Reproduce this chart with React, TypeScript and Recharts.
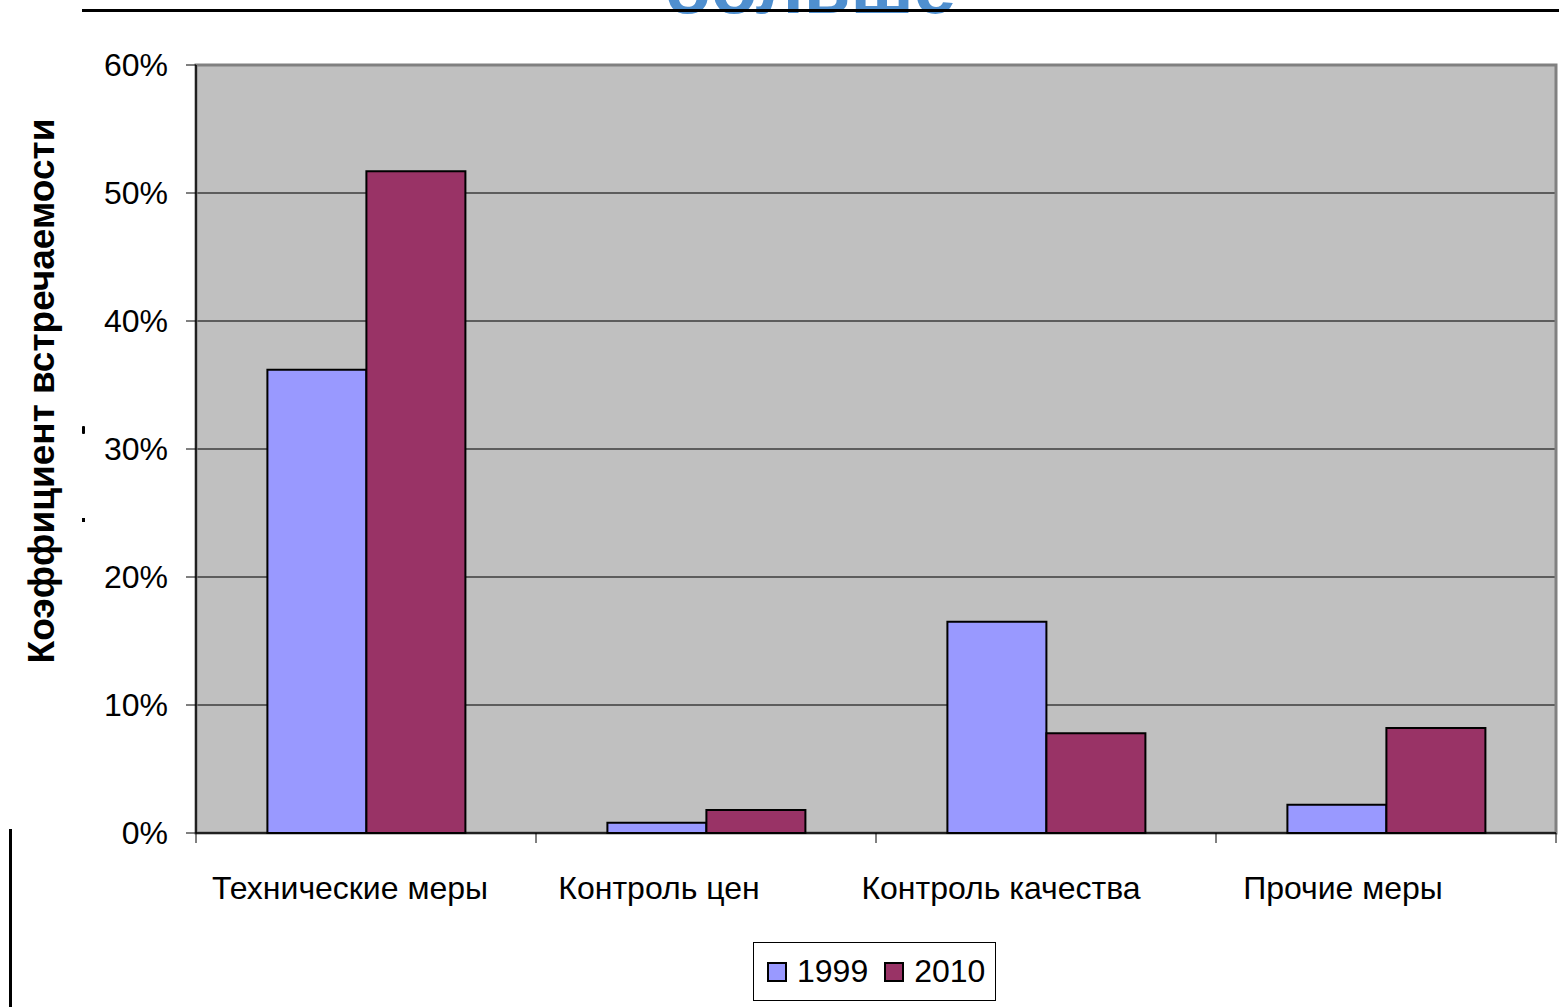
import {
  Bar,
  BarChart,
  CartesianGrid,
  Legend,
  ReferenceArea,
  XAxis,
  YAxis,
} from "recharts";

// Values (share of occurrences, %)
const CATEGORIES = ["Технические меры", "Контроль цен", "Контроль качества", "Прочие меры"];
const SERIES_1999 = [36.2, 0.8, 16.5, 2.2];
const SERIES_2010 = [51.7, 1.8, 7.8, 8.2];
const Y_TICKS = [0, 10, 20, 30, 40, 50, 60];

const COLOR_1999 = "#9999FF";
const COLOR_2010 = "#993366";
const FONT = "'Liberation Sans', Arial, sans-serif";
// labels in the original sit a bit left of category centres
const LABEL_DX = [-16, -47, -45, -43];
const HALF_BAND = 170;

const data = CATEGORIES.map((name, i) => ({
  name,
  y1999: SERIES_1999[i],
  y2010: SERIES_2010[i],
}));

function CategoryTick(props: any) {
  const { x, y, payload, index } = props;
  const last = index === CATEGORIES.length - 1;
  return (
    <g>
      <line x1={x - HALF_BAND} y1={y} x2={x - HALF_BAND} y2={y + 10} stroke="#000" strokeWidth={1} />
      {last && (
        <line x1={x + HALF_BAND} y1={y} x2={x + HALF_BAND} y2={y + 10} stroke="#000" strokeWidth={1} />
      )}
      <text
        x={x + (LABEL_DX[index] ?? 0)}
        y={y + 55}
        textAnchor="middle"
        dominantBaseline="central"
        fontFamily={FONT}
        fontSize={32}
        fill="#000"
      >
        {payload.value}
      </text>
    </g>
  );
}

function YLabel() {
  return (
    <text
      x={41}
      y={391}
      transform="rotate(-90 41 391)"
      textAnchor="middle"
      dominantBaseline="central"
      fontFamily={FONT}
      fontWeight="bold"
      fontSize={37}
      fill="#000"
    >
      Коэффициент встречаемости
    </text>
  );
}

function LegendBox() {
  const item = (color: string, label: string, gap: number) => (
    <span style={{ display: "inline-flex", alignItems: "center", marginRight: gap }}>
      <span
        style={{
          display: "inline-block",
          width: 16,
          height: 16,
          background: color,
          border: "2px solid #000",
          marginRight: 10,
        }}
      />
      <span>{label}</span>
    </span>
  );
  return (
    <div
      style={{
        width: 243,
        height: 59,
        border: "1px solid #000",
        display: "flex",
        alignItems: "center",
        paddingLeft: 13,
        boxSizing: "border-box",
        fontFamily: FONT,
        fontSize: 32,
        color: "#000",
        background: "#fff",
      }}
    >
      {item(COLOR_1999, "1999", 16)}
      {item(COLOR_2010, "2010", 0)}
    </div>
  );
}

export default function App() {
  return (
    <div style={{ position: "absolute", left: 0, top: 0, width: 1559, height: 1007, background: "#fff", overflow: "hidden" }}>
      {/* clipped slide title above the rule */}
      <div
        style={{
          position: "absolute",
          left: 0,
          top: -51,
          width: 1620,
          textAlign: "center",
          fontFamily: FONT,
          fontWeight: "bold",
          fontSize: 76,
          color: "#4F8FCF",
          lineHeight: "76px",
        }}
      >
        больше
      </div>
      <div style={{ position: "absolute", left: 82, top: 9, width: 1477, height: 3, background: "#000" }} />
      <div style={{ position: "absolute", left: 9, top: 829, width: 3, height: 178, background: "#000" }} />
      <div style={{ position: "absolute", left: 82, top: 426, width: 3, height: 8, background: "#000", borderRadius: 1 }} />
      <div style={{ position: "absolute", left: 82, top: 518, width: 3, height: 4, background: "#000" }} />

      <div style={{ position: "absolute", left: 0, top: 0 }}>
        <BarChart
          width={1559}
          height={1007}
          data={data}
          margin={{ top: 65, right: 3, bottom: 0, left: 0 }}
          barCategoryGap="21%"
          barGap={0}
        >
          <CartesianGrid
            fill="#C0C0C0"
            fillOpacity={1}
            stroke="#3c3c3c"
            strokeWidth={1.5}
            vertical={false}
          />
          <ReferenceArea y1={0} y2={60} fill="none" stroke="#808080" strokeWidth={3} ifOverflow="visible" />
          <XAxis
            dataKey="name"
            height={115}
            tickSize={0}
            tickMargin={0}
            tickLine={false}
            axisLine={{ stroke: "#000", strokeWidth: 1.5 }}
            tick={<CategoryTick />}
            interval={0}
          />
          <YAxis
            width={196}
            domain={[0, 60]}
            ticks={Y_TICKS}
            tickFormatter={(v: number) => `${v}%`}
            tickSize={10}
            tickMargin={18}
            tickLine={{ stroke: "#000" }}
            axisLine={{ stroke: "#000", strokeWidth: 1.5 }}
            tick={{ fontFamily: FONT, fontSize: 32, fill: "#000" }}
            label={<YLabel />}
          />
          <Legend
            content={<LegendBox />}
            wrapperStyle={{ position: "absolute", left: 753, top: 942, width: 243, bottom: "auto" }}
          />
          <Bar dataKey="y1999" name="1999" fill={COLOR_1999} stroke="#000" strokeWidth={2} isAnimationActive={false} />
          <Bar dataKey="y2010" name="2010" fill={COLOR_2010} stroke="#000" strokeWidth={2} isAnimationActive={false} />
        </BarChart>
      </div>
    </div>
  );
}
